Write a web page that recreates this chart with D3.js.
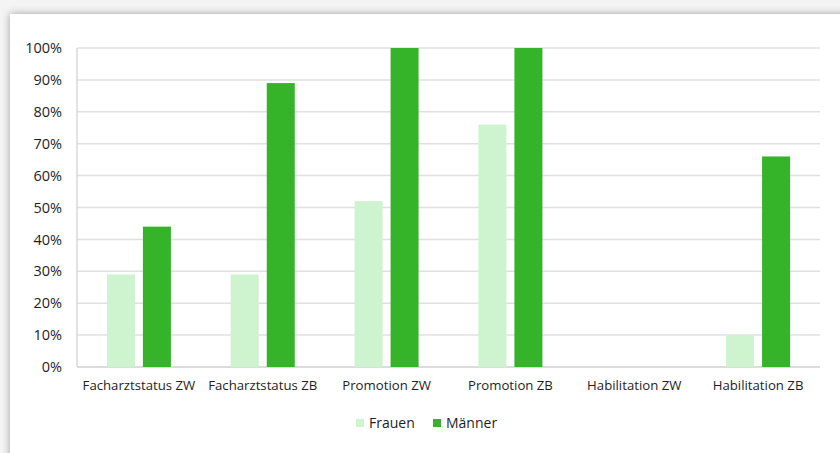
<!DOCTYPE html>
<html><head><meta charset="utf-8">
<script src="https://cdn.jsdelivr.net/npm/d3@7"></script>
<style>
body{margin:0;background:#f2f2f2;}
svg{display:block;}
</style></head>
<body>
<svg id="c" width="840" height="453"></svg>
<script>
const categories = ["Facharztstatus ZW","Facharztstatus ZB","Promotion ZW","Promotion ZB","Habilitation ZW","Habilitation ZB"];
const frauen = [29, 29, 52, 76, 0, 10];
const maenner = [44, 89, 100, 100, 0, 66];
const seriesNames = ["Frauen","Männer"];
const yTicks = [0,10,20,30,40,50,60,70,80,90,100];

const colors = {"Frauen":"#cdf3cf","Männer":"#35b42a"};
const svg = d3.select("#c");
const font = "'Open Sans', sans-serif";

// card with shadow
const defs = svg.append("defs");
const f = defs.append("filter").attr("id","sh").attr("x","-5%").attr("y","-5%").attr("width","110%").attr("height","110%");
f.append("feGaussianBlur").attr("in","SourceAlpha").attr("stdDeviation",4);
f.append("feComponentTransfer").append("feFuncA").attr("type","linear").attr("slope",0.35);
const mg = f.append("feMerge"); mg.append("feMergeNode"); mg.append("feMergeNode").attr("in","SourceGraphic");
svg.append("rect").attr("width",840).attr("height",453).attr("fill","#f4f4f4");
svg.append("rect").attr("x",10).attr("y",14).attr("width",850).attr("height",460).attr("fill","#fff").attr("filter","url(#sh)");

const pL = 77, pR = 820, pT = 48, pB = 367;
const x = d3.scaleBand().domain(categories).range([pL,pR]);
const y = d3.scaleLinear().domain([0,100]).range([pB,pT]);
const inner = d3.scaleBand().domain(seriesNames).range([0,64]).paddingInner(0.222);

// gridlines
svg.append("g").selectAll("line").data(yTicks).join("line")
  .attr("x1",pL).attr("x2",pR).attr("y1",d=>y(d)).attr("y2",d=>y(d))
  .attr("stroke",d=>d===0?"#d0d0d0":"#e0e0e0").attr("stroke-width",1.5);
svg.append("line").attr("x1",pL).attr("x2",pL).attr("y1",pT).attr("y2",pB)
  .attr("stroke","#d8d8d8").attr("stroke-width",1.5);

// y axis labels
const yAxis = d3.axisLeft(y).tickValues(yTicks).tickFormat(d=>d+"%").tickSize(0).tickPadding(15);
const ya = svg.append("g").attr("transform",`translate(${pL},0)`).call(yAxis);
ya.select(".domain").remove();
ya.selectAll("text").attr("font-family",font).attr("font-size",14.5).attr("fill","#1e1e1e");

// bars
const data = categories.map((c,i)=>({c, vals:[{s:"Frauen",v:frauen[i]},{s:"Männer",v:maenner[i]}]}));
const g = svg.append("g").selectAll("g").data(data).join("g")
  .attr("transform",d=>`translate(${x(d.c)+x.bandwidth()/2-32},0)`);
g.selectAll("rect").data(d=>d.vals).join("rect")
  .attr("x",d=>inner(d.s)).attr("width",inner.bandwidth())
  .attr("y",d=>y(d.v)).attr("height",d=>y(0)-y(d.v))
  .attr("fill",d=>colors[d.s]);

// x axis labels
const xAxis = d3.axisBottom(x).tickSize(0).tickPadding(14);
const xa = svg.append("g").attr("transform",`translate(0,${pB})`).call(xAxis);
xa.select(".domain").remove();
xa.selectAll("text").attr("font-family",font).attr("font-size",13.2).attr("fill","#1e1e1e");

// legend
const leg = svg.append("g").attr("transform","translate(356,423)");
const items = [{s:"Frauen",x:0},{s:"Männer",x:77}];
const li = leg.selectAll("g").data(items).join("g").attr("transform",d=>`translate(${d.x},0)`);
li.append("rect").attr("x",0).attr("y",-4).attr("width",8).attr("height",8).attr("fill",d=>colors[d.s]);
li.append("text").attr("x",13).attr("y",0).attr("dy","0.35em").attr("font-family",font)
  .attr("font-size",14).attr("fill","#1e1e1e").text(d=>d.s);
</script>
</body></html>
